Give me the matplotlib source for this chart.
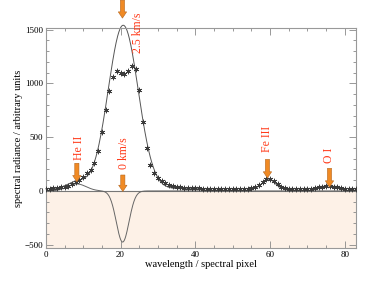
import matplotlib
matplotlib.use('Agg')
import matplotlib.pyplot as plt
import numpy as np

# measured spectrum, one value per spectral pixel 0..83
pixel = np.arange(84)
radiance = [20, 22, 25, 28, 32, 38, 48, 62, 82, 105,
            133, 163, 194, 256, 373, 549, 750, 929, 1060, 1111,
            1098, 1083, 1114, 1165, 1135, 938, 642, 395, 241, 164,
            117, 90, 72, 58, 48, 40, 35, 31, 28, 26,
            24, 23, 22, 22, 22, 21, 21, 21, 21, 21,
            21, 21, 21, 21, 22, 26, 35, 55, 85, 110,
            112, 90, 60, 38, 26, 22, 20, 20, 20, 20,
            20, 22, 26, 32, 40, 45, 45, 40, 32, 25,
            20, 18, 16, 15]

# fitted gaussian components: amplitude, centre, sigma
baseline = 20
main_line = (1520, 20.7, 4.0)
reversal = (-475, 20.55, 1.7)
he2_line = (65, 8.3, 2.5)
fe3_line = (90, 59.6, 1.6)
o1_line = (28, 75.6, 2.0)

# annotations: x, arrow top, arrow tip
arrows = [(8.3, 257, 85), (20.6, 148, -5), (59.3, 293, 120), (75.9, 210, 36), (20.5, 1773, 1606)]
labels = [('He II', 8.9, 400), ('0 km/s', 20.8, 350), ('Fe III', 59.3, 483),
          ('O I', 75.9, 328), ('2.5 km/s', 24.6, 1470)]


def gauss(x, p):
    a, c, s = p
    return a * np.exp(-(x - c) ** 2 / (2 * s ** 2))


def main():
    plt.rcParams['font.family'] = ['Liberation Serif', 'DejaVu Serif']
    fig = plt.figure(figsize=(3.82, 2.86), dpi=100)
    ax = fig.add_axes([0.120, 0.133, 0.812, 0.769])
    ax.set_xlim(0, 83)
    ax.set_ylim(-530, 1514)

    ax.axhspan(-530, 0, color='#fdf1e7', zorder=0)
    ax.axhline(0, color='#777777', lw=0.8, zorder=1)

    x = np.linspace(0, 83, 800)
    total = baseline + gauss(x, main_line) + gauss(x, he2_line) + gauss(x, fe3_line) + gauss(x, o1_line)
    comp = gauss(x, he2_line) + gauss(x, reversal)
    ax.plot(x, total, color='#555555', lw=0.7, clip_on=False, zorder=2)
    ax.plot(x, comp, color='#666666', lw=0.7, zorder=2)
    ax.plot(pixel, radiance, ls='none', marker=(6, 2, 0), ms=4, mew=0.5,
            color='#3a3a3a', zorder=3)

    for ax_x, y0, y1 in arrows:
        ax.annotate('', xy=(ax_x, y1), xytext=(ax_x, y0), annotation_clip=False,
                    arrowprops=dict(arrowstyle='simple,head_width=0.6,head_length=0.45,tail_width=0.3',
                                    fc='#f08a24', ec='#b5651d', lw=0.4, shrinkA=0, shrinkB=0),
                    zorder=4)
    for txt, lx, ly in labels:
        ax.text(lx, ly, txt, rotation=90, color='#ff3a1a', fontsize=8.5,
                ha='center', va='center', clip_on=False)

    ax.set_xlabel('wavelength / spectral pixel', fontsize=7.5, labelpad=1)
    ax.set_ylabel('spectral radiance / arbitrary units', fontsize=7.5, labelpad=1)
    ax.set_xticks([0, 20, 40, 60, 80])
    ax.set_xticks(np.arange(0, 84, 5), minor=True)
    ax.set_yticks([-500, 0, 500, 1000, 1500])
    ax.set_yticks(np.arange(-500, 1510, 100), minor=True)
    ax.set_yticklabels(['\u2212500', '0', '500', '1000', '1500'])
    ax.tick_params(which='both', direction='in', top=True, right=True,
                   labelsize=6.5, color='#888888', width=0.6)
    ax.tick_params(which='major', length=5, pad=2)
    ax.tick_params(which='minor', length=2.5)
    for sp in ax.spines.values():
        sp.set_color('#999999')
        sp.set_linewidth(0.8)

    fig.savefig('out.png', dpi=100)


if __name__ == '__main__':
    main()
